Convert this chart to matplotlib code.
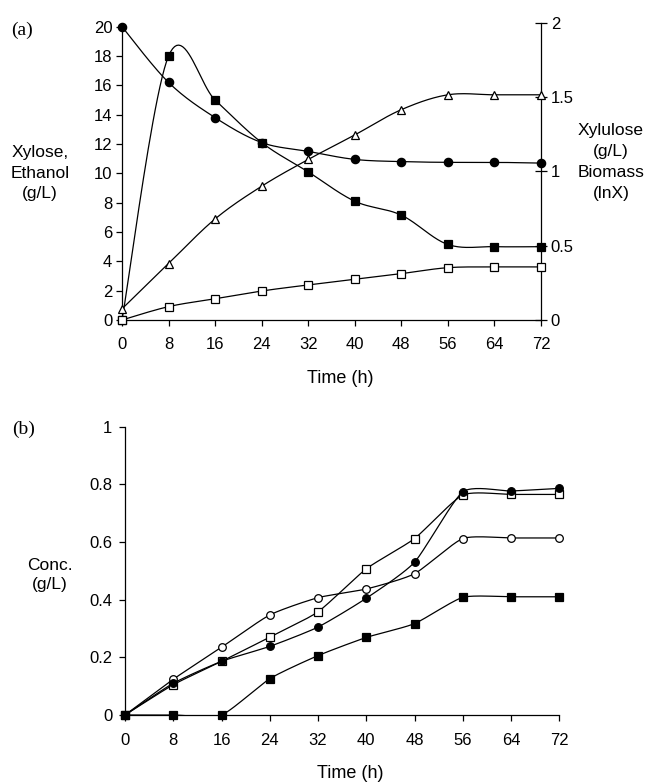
import numpy as np
import matplotlib
matplotlib.use("Agg")
import matplotlib.pyplot as plt

plt.rcParams['font.family'] = ['Liberation Sans', 'DejaVu Sans']

# ---------------- data ----------------
time_h = [0, 8, 16, 24, 32, 40, 48, 56, 64, 72]

# panel (a), left axis (g/L)
a_filled_circle = [20.0, 16.2, 13.8, 12.1, 11.5, 10.95, 10.8, 10.75, 10.75, 10.7]
a_filled_square = [0.0, 18.0, 15.0, 12.1, 10.1, 8.1, 7.15, 5.15, 5.0, 5.0]
# panel (a), right axis
a_open_triangle = [0.075, 0.38, 0.68, 0.90, 1.08, 1.245, 1.415, 1.515, 1.515, 1.515]
a_open_square = [0.0, 0.09, 0.143, 0.195, 0.236, 0.274, 0.312, 0.352, 0.357, 0.357]

# panel (b) (g/L)
b_open_circle = [0.0, 0.124, 0.235, 0.347, 0.407, 0.437, 0.49, 0.612, 0.614, 0.614]
b_open_square = [0.0, 0.105, 0.186, 0.27, 0.358, 0.507, 0.612, 0.763, 0.765, 0.765]
b_filled_circle = [0.0, 0.11, 0.186, 0.238, 0.305, 0.405, 0.53, 0.774, 0.777, 0.786]
b_filled_square = [0.0, 0.0, 0.0, 0.126, 0.206, 0.269, 0.317, 0.408, 0.41, 0.41]

x_ticks = [0, 8, 16, 24, 32, 40, 48, 56, 64, 72]
a_left_ticks = [0, 2, 4, 6, 8, 10, 12, 14, 16, 18, 20]
a_right_ticks = [0, 0.5, 1, 1.5, 2]
a_right_ticklabels = ['0', '0.5', '1', '1.5', '2']
b_ticks = [0, 0.2, 0.4, 0.6, 0.8, 1]
b_ticklabels = ['0', '0.2', '0.4', '0.6', '0.8', '1']


def smooth(x, y, k=1 / 6.0, n=24):
    """Bezier (Catmull-Rom style) smoothing used only for drawing the line."""
    p = np.column_stack([np.asarray(x, float), np.asarray(y, float)])
    pts = np.vstack([p[0], p, p[-1]])
    out = []
    t = np.linspace(0, 1, n)[:, None]
    for i in range(1, len(pts) - 2):
        p0, p1, p2, p3 = pts[i - 1], pts[i], pts[i + 1], pts[i + 2]
        c1 = p1 + (p2 - p0) * k
        c2 = p2 - (p3 - p1) * k
        seg = ((1 - t) ** 3) * p1 + 3 * ((1 - t) ** 2) * t * c1 + 3 * (1 - t) * t ** 2 * c2 + t ** 3 * p2
        out.append(seg if i == 1 else seg[1:])
    s = np.vstack(out)
    return s[:, 0], s[:, 1]


def series(ax, x, y, marker, fill, ms, k=1 / 6.0):
    sx, sy = smooth(x, y, k)
    ax.plot(sx, sy, color='black', lw=0.9, clip_on=True, zorder=2)
    ax.plot(x, y, linestyle='none', marker=marker, ms=ms,
            mfc='black' if fill else 'white', mec='black', mew=0.9,
            clip_on=False, zorder=3)


TICK_FS = 12
LAB_FS = 12.5

W, H = 667, 783
fig = plt.figure(figsize=(W / 100, H / 100), dpi=100)

# ---------------- panel (a) ----------------
ax_l, ax_r, ax_b, ax_t = 122, 541, 320, 22.7
ax = fig.add_axes([ax_l / W, 1 - ax_b / H, (ax_r - ax_l) / W, (ax_b - ax_t) / H])
ax.set_xlim(0, 72)
ax.set_ylim(0, 20 * (ax_b - ax_t) / (ax_b - 26.7))
ax2 = ax.twinx()
ax2.set_ylim(0, 2)

series(ax, time_h, a_filled_circle, 'o', True, 6)
series(ax, time_h, a_filled_square, 's', True, 5.5)
series(ax2, time_h, a_open_triangle, '^', False, 6)
series(ax2, time_h, a_open_square, 's', False, 5.5)

for a in (ax, ax2):
    a.spines['top'].set_visible(False)
ax.spines['left'].set_bounds(0, 20)
ax2.spines['left'].set_visible(False)
ax2.spines['bottom'].set_visible(False)
ax.spines['right'].set_visible(False)
for s in ('left', 'bottom'):
    ax.spines[s].set_linewidth(0.9)
ax2.spines['right'].set_linewidth(0.9)

ax.set_xticks(x_ticks)
ax.set_yticks(a_left_ticks)
ax.tick_params(axis='both', direction='out', length=4, width=0.9, labelsize=TICK_FS)
ax.tick_params(axis='x', pad=8)
ax.tick_params(axis='y', pad=3)
ax2.set_yticks(a_right_ticks)
ax2.set_yticklabels(a_right_ticklabels)
ax2.tick_params(axis='y', direction='inout', length=8, width=0.9, labelsize=TICK_FS, pad=3)

fig.text(22 / W, 1 - 30 / H, '(a)', family='Liberation Serif', fontsize=14,
         ha='center', va='center')
fig.text(40 / W, 1 - 173 / H, 'Xylose,\nEthanol\n(g/L)', fontsize=LAB_FS,
         ha='center', va='center', linespacing=1.45)
fig.text(611 / W, 1 - 162 / H, 'Xylulose\n(g/L)\nBiomass\n(lnX)', fontsize=LAB_FS,
         ha='center', va='center', linespacing=1.5)
fig.text(340 / W, 1 - 378 / H, 'Time (h)', fontsize=13, ha='center', va='center')

# ---------------- panel (b) ----------------
bx_l, bx_r, bx_b, bx_t = 125, 559.3, 715, 426.7
bx = fig.add_axes([bx_l / W, 1 - bx_b / H, (bx_r - bx_l) / W, (bx_b - bx_t) / H])
bx.set_xlim(0, 72)
bx.set_ylim(0, 1)

kb = 1 / 10.0
series(bx, time_h, b_open_circle, 'o', False, 5.5, kb)
series(bx, time_h, b_open_square, 's', False, 5.5, kb)
series(bx, time_h, b_filled_circle, 'o', True, 5.5, kb)
series(bx, time_h, b_filled_square, 's', True, 5.5, kb)

bx.spines['top'].set_visible(False)
bx.spines['right'].set_visible(False)
for s in ('left', 'bottom'):
    bx.spines[s].set_linewidth(0.9)
bx.set_xticks(x_ticks)
bx.set_yticks(b_ticks)
bx.set_yticklabels(b_ticklabels)
bx.tick_params(axis='both', direction='out', length=4, width=0.9, labelsize=TICK_FS)
bx.tick_params(axis='x', pad=9)
bx.tick_params(axis='y', pad=5)

fig.text(24 / W, 1 - 429 / H, '(b)', family='Liberation Serif', fontsize=14,
         ha='center', va='center')
fig.text(50 / W, 1 - 575 / H, 'Conc.\n(g/L)', fontsize=LAB_FS,
         ha='center', va='center', linespacing=1.4)
fig.text(350 / W, 1 - 774 / H, 'Time (h)', fontsize=13, ha='center', va='center')

fig.savefig('out.png', dpi=100)
